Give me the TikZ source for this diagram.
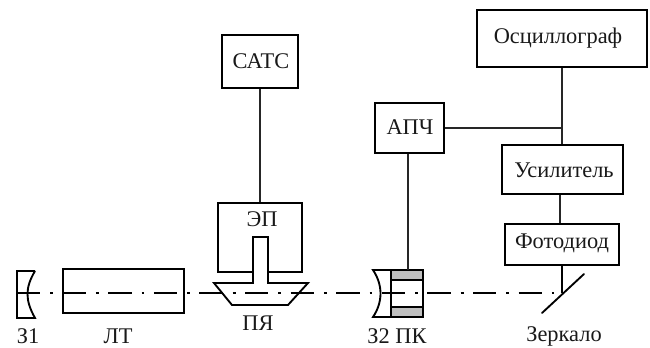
\documentclass[tikz,border=0pt]{standalone}
\usepackage{fontspec}
\setmainfont{Liberation Serif}
\tikzset{
  boxst/.style={draw=black,line width=1.4pt,inner sep=0pt,rectangle},
  lbl/.style={inner sep=0pt,font=\fontsize{16.8}{18}\selectfont,text=black!90},
  wire/.style={draw=black!85,line width=0.95pt},
  thickln/.style={draw=black,line width=1.4pt},
  axisln/.style={draw=black,line width=1.1pt,dash pattern=on 17.5pt off 7.5pt on 2.2pt off 7pt}
}
\begin{document}
\begin{tikzpicture}[x=0.75pt,y=-0.75pt]
\useasboundingbox (0,0) rectangle (650,347);
% optical axis
\coordinate (axL) at (17,293);
\coordinate (axR) at (554,293);
\draw[axisln] (axL) -- (axR);
% boxes
\node[boxst,minimum width=127.5pt,minimum height=42.75pt] (osc) at (562,38.5) {};
\node[lbl] (osct) at (558,38.5) {Осциллограф};
\node[boxst,minimum width=51.75pt,minimum height=37.5pt] (apc) at (409.5,128) {};
\node[lbl] (apct) at (410,127.5) {АПЧ};
\node[boxst,minimum width=90.75pt,minimum height=36.75pt] (usi) at (562.5,169.5) {};
\node[lbl] (usit) at (564,170.5) {Усилитель};
\node[boxst,minimum width=85.5pt,minimum height=30.75pt] (pho) at (562,244.5) {};
\node[lbl] (phot) at (562,243.5) {Фотодиод};
\node[boxst,minimum width=57pt,minimum height=39.75pt] (sats) at (260,61.5) {};
\node[lbl] (satst) at (261,61.5) {САТС};
\node[boxst,minimum width=63pt,minimum height=51.75pt] (ep) at (260,237.5) {};
\node[lbl] (ept) at (262,219) {ЭП};
\node[boxst,minimum width=90.75pt,minimum height=33pt] (lt) at (123.5,291) {};
% wires
\coordinate (junc) at (apc.east -| osc.south);
\coordinate (cellT) at (408,270);
\coordinate (ufx) at (560,200);
\draw[wire] (osc.south) -- (usi.north -| osc.south);
\draw[wire] (apc.east) -- (junc);
\draw[wire] (usi.south -| ufx) -- (pho.north -| ufx);
\draw[wire] (sats.south) -- (ep.north);
% mirror
\coordinate (mirA) at (542,313);
\coordinate (mirB) at (584,274);
\draw[thickln,line cap=round] (mirA) -- (mirB);
\coordinate (mirC) at (562,293);
\draw[thickln] (pho.south) -- (mirC);
% Q-switch trapezoid with stem
\draw[thickln,fill=white] (253,283) -- (214,283) -- (232,305) -- (288,305) -- (308,283) -- (268,283) -- (268,237) -- (253,237) -- cycle;
% axis inside trapezoid
\begin{scope}
\clip (214,283) -- (232,305) -- (288,305) -- (308,283) -- cycle;
\draw[axisln] (axL) -- (axR);
\end{scope}
% mirror Z1
\draw[thickln] (35,271) -- (17,271) -- (17,318) -- (35,318) .. controls (25,300) and (25,288) .. (35,271);
% Z2 and cell
\draw[thickln,fill=black!25] (391,270) rectangle (423,280);
\draw[thickln,fill=black!25] (391,307) rectangle (423,317);
\draw[thickln] (391,270) -- (373,270) .. controls (383,285) and (383,302) .. (373,317) -- (391,317) -- (391,270);
\draw[thickln] (423,280) -- (423,307);
\draw[wire] (apc.south -| cellT) -- (cellT);
% labels
\node[lbl] (z1) at (28,336) {З1};
\node[lbl] (ltt) at (118,336) {ЛТ};
\node[lbl] (pya) at (258,323) {ПЯ};
\node[lbl] (z2) at (397,336) {З2 ПК};
\node[lbl] (zer) at (564,336) {Зеркало};
\end{tikzpicture}
\end{document}
